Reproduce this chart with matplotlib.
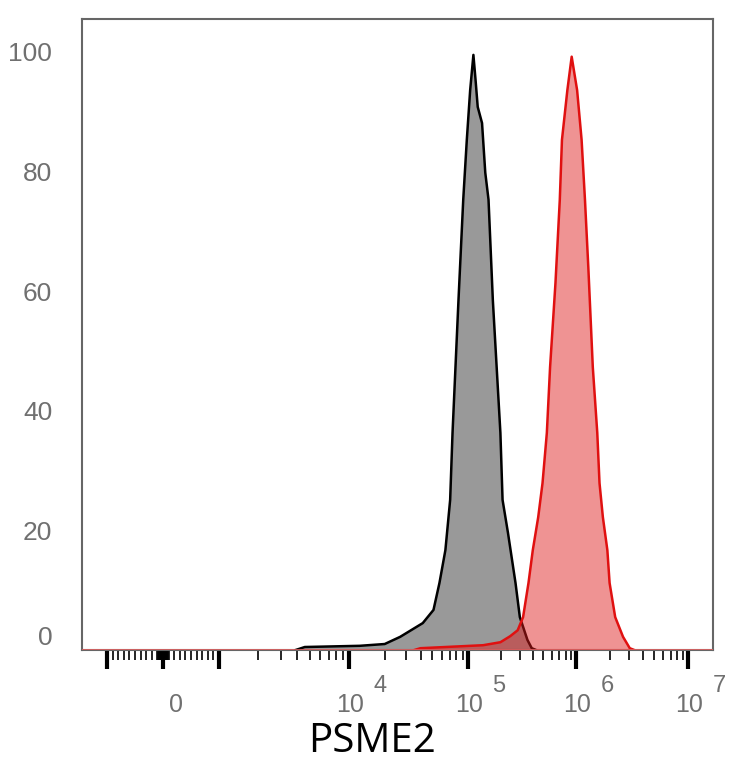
import numpy as np
import matplotlib
matplotlib.use("Agg")
import matplotlib.pyplot as plt
from matplotlib.ticker import FixedLocator, NullFormatter

# histogram outlines, x in log10 of intensity, y in % of mode
gray_log = [3.59, 3.66, 4.09, 4.30, 4.43, 4.62, 4.71, 4.76, 4.81, 4.85, 4.87, 4.92, 4.96,
            4.99, 5.02, 5.05, 5.07, 5.09, 5.13, 5.16, 5.19, 5.23, 5.30, 5.32, 5.37, 5.44,
            5.48, 5.55, 5.59, 5.63]
gray_pct = [0, 0.5, 0.7, 1.0, 2.2, 4.5, 6.7, 11.2, 16.7, 25.1, 36.3, 58.5, 75.3,
            85.3, 93.6, 99.5, 95.3, 90.8, 88.1, 79.8, 75.3, 58.5, 36.3, 25.1, 19.6, 11.2,
            5.5, 1.7, 0.3, 0]

red_log = [4.55, 4.60, 5.14, 5.30, 5.39, 5.46, 5.51, 5.56, 5.60, 5.65, 5.69, 5.73, 5.76,
           5.81, 5.85, 5.87, 5.92, 5.96, 6.01, 6.05, 6.08, 6.11, 6.15, 6.19, 6.21, 6.24,
           6.28, 6.30, 6.35, 6.42, 6.48, 6.52]
red_pct = [0, 0.3, 0.8, 1.3, 2.3, 3.3, 5.5, 11.2, 16.7, 22.2, 27.9, 36.3, 47.3,
           61.4, 75.3, 85.3, 93.6, 99.2, 93.6, 85.3, 75.3, 64.0, 47.3, 36.3, 27.9, 22.2,
           16.7, 11.2, 5.5, 2.2, 0.3, 0]

y_ticks = [0, 20, 40, 60, 80, 100]
x_major = [-1e3, 0, 1e3, 1e4, 1e5, 1e6, 1e7]
x_labels = {0: "0", 1e4: "4", 1e5: "5", 1e6: "6", 1e7: "7"}
x_title = "PSME2"


# biex-like axis: linear inside +-1e3, log outside, decades placed as in FlowJo
def _u(x):
    x = np.asarray(x, dtype=float)
    a = np.abs(x)
    return np.where(a <= 1e3, x / 1e3, np.sign(x) * (1 + np.log10(np.maximum(a, 1e3) / 1e3)))

def _u_inv(u):
    u = np.asarray(u, dtype=float)
    a = np.abs(u)
    return np.where(a <= 1, u * 1e3, np.sign(u) * 1e3 * 10 ** (np.maximum(a, 1) - 1))

U_ANCH = np.arange(-2, 7)
P_ANCH = np.array([-22, 107, 163, 219, 349, 468, 576, 688, 800], dtype=float)

def fwd(x):
    return np.interp(_u(x), U_ANCH, P_ANCH)

def inv(p):
    return _u_inv(np.interp(p, P_ANCH, U_ANCH))


fig = plt.figure(figsize=(7.34, 7.68), dpi=100)
ax = fig.add_axes([82 / 734, 1 - 650 / 768, (713 - 82) / 734, (650 - 19) / 768])
ax.set_xscale("function", functions=(fwd, inv))

gx = 10 ** np.array(gray_log)
rx = 10 ** np.array(red_log)
ax.fill_between(gx, gray_pct, 0, facecolor="#999999", edgecolor="none", zorder=2)
ax.plot(gx, gray_pct, color="black", lw=1.8, zorder=3, solid_joinstyle="round")
ax.fill_between(rx, red_pct, 0, facecolor=(0.87, 0.1, 0.1, 0.47), edgecolor="none", zorder=4)
ax.plot(rx, red_pct, color="#e01010", lw=1.8, zorder=5, solid_joinstyle="round")
ax.axhline(0, color="#e06060", lw=1.2, zorder=5)

ax.set_xlim(inv(82), inv(713))
ax.set_ylim(0, 105.5)

# ticks
minor = []
for d in [1, 10, 100]:
    for k in range(1, 10):
        minor += [k * d, -k * d]
for d in [1e3, 1e4, 1e5, 1e6]:
    minor += [k * d for k in range(2, 10)]
ax.xaxis.set_major_locator(FixedLocator(x_major))
ax.xaxis.set_minor_locator(FixedLocator(minor))
ax.xaxis.set_major_formatter(NullFormatter())
ax.xaxis.set_minor_formatter(NullFormatter())
ax.tick_params(axis="x", which="major", length=14, width=3, color="black", direction="out")
ax.tick_params(axis="x", which="minor", length=7, width=1.2, color="black", direction="out")

ax.set_yticks(y_ticks)
ax.set_yticklabels([str(v) for v in y_ticks], fontsize=19, color="#707070", family="Liberation Sans")
ax.tick_params(axis="y", length=0, pad=21.5)
ax.get_yticklabels()[0].set_va("bottom")

for s in ax.spines.values():
    s.set_color("#666666")
    s.set_linewidth(1.5)

for val, sup in x_labels.items():
    if val == 0:
        ax.annotate("0", xy=(val, 0), xycoords=("data", "axes fraction"), xytext=(13, -55),
                    textcoords="offset pixels", ha="center", va="center", fontsize=18,
                    color="#707070", family="Liberation Sans")
        continue
    ax.annotate("10", xy=(val, 0), xycoords=("data", "axes fraction"), xytext=(1, -55),
                textcoords="offset pixels", ha="center", va="center", fontsize=18,
                color="#707070", family="Liberation Sans")
    ax.annotate(sup, xy=(val, 0), xycoords=("data", "axes fraction"), xytext=(31, -36),
                textcoords="offset pixels", ha="center", va="center", fontsize=17,
                color="#707070", family="Liberation Sans")

fig.text(372 / 734, 1 - 742 / 768, x_title, ha="center", va="center", fontsize=29,
         family="Open Sans", color="black")

fig.savefig("out.png", dpi=100)
